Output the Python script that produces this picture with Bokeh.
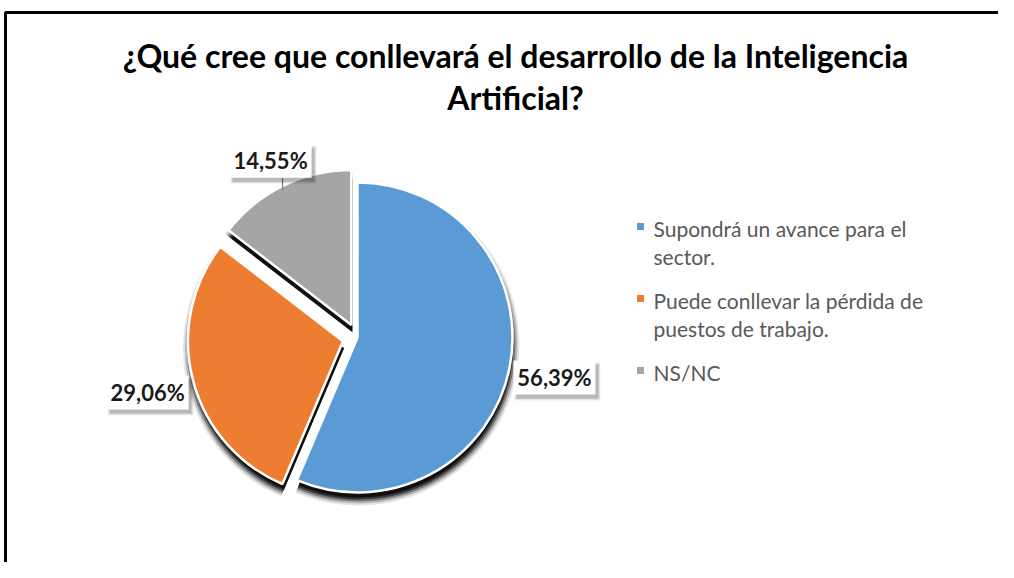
import numpy as np
import textwrap
from bokeh.plotting import figure
from bokeh.models import Range1d, ColumnDataSource
from bokeh.core.properties import value
from bokeh.embed import file_html
from bokeh.resources import INLINE

# ---------------- data ----------------
categories = ["Supondrá un avance para el sector.",
              "Puede conllevar la pérdida de puestos de trabajo.",
              "NS/NC"]
percentages = [56.39, 29.06, 14.55]
pct_labels = ["56,39%", "29,06%", "14,55%"]
colors = ["#5B9BD5", "#ED7D31", "#A5A5A5"]
title_lines = ["¿Qué cree que conllevará el desarrollo de la Inteligencia",
               "Artificial?"]

# ---------------- layout helpers (screen pixels -> data) ----------------
W, H = 998, 562
def px(x):
    return x
def py(y):
    return H - y

p = figure(width=W, height=H, x_range=Range1d(0, W), y_range=Range1d(0, H),
           output_backend="svg", toolbar_location=None, tools="",
           x_axis_location=None, y_axis_location=None, min_border=0)
p.grid.visible = False
p.outline_line_color = None
p.background_fill_color = "white"
p.border_fill_color = "white"

FONT = "Lato"

# frame border (top + left of the chart area)
p.line(x=[px(5), px(5), W], y=[0, py(12), py(12)], line_color="black", line_width=3)

# ---------------- pie geometry ----------------
cx, cy, R = px(357), py(337), 155
explode = np.array([0.0, 15.0, 14.0])
frac = np.array(percentages) / 100.0
cum = np.concatenate([[0.0], np.cumsum(frac)])
start = np.pi / 2 - cum[:-1] * 2 * np.pi
end = np.pi / 2 - cum[1:] * 2 * np.pi
mid = (start + end) / 2
sx = cx + explode * np.cos(mid)
sy = cy + explode * np.sin(mid)

# soft drop shadow (down, blurred)
for k, a in [(6, 0.10), (4, 0.20), (2, 0.35), (0, 0.55), (-2, 0.70)]:
    p.wedge(x=sx + 1, y=sy - 7, radius=R + k, start_angle=start, end_angle=end,
            direction="clock", fill_color="black", fill_alpha=a, line_color=None)

src = ColumnDataSource(dict(x=sx, y=sy, start=start, end=end, color=colors, cat=categories))
p.wedge(x="x", y="y", radius=R, start_angle="start", end_angle="end", direction="clock",
        fill_color="color", line_color="white", line_width=2.5, source=src)

# ---------------- data labels ----------------
ldist = np.array([201.0, 202.0, 183.0])
lx = sx + ldist * np.cos(mid)
ly = sy + ldist * np.sin(mid)
bw, bh = 82, 34

# leader line for the small slice
p.segment(x0=[lx[2] + 12], y0=[ly[2] - bh / 2], x1=[lx[2] + 12], y1=[ly[2] - bh / 2 - 12],
          line_color="#7F7F7F", line_width=1.2)

for k, a in [(4, 0.06), (2, 0.10), (0, 0.14)]:
    p.rect(x=lx + 3, y=ly - 4, width=bw + k, height=bh + k, fill_color="black",
           fill_alpha=a, line_color=None)
p.rect(x=lx, y=ly, width=bw, height=bh, fill_color="white", line_color=None)
p.text(x=lx, y=ly, text=pct_labels, text_font=value(FONT), text_font_style="bold",
       text_font_size="22px", text_color="#1A1A1A", text_align="center",
       text_baseline="middle")

# ---------------- legend ----------------
leg_x = px(640)
leg_text_x = px(653)
line_h = 28
gap = 16
ys_sq, lines_x, lines_y, lines_t = [], [], [], []
yy = 228
for cat in categories:
    wrapped = textwrap.wrap(cat, 29)
    ys_sq.append(py(yy - 2))
    for j, t in enumerate(wrapped):
        lines_x.append(leg_text_x)
        lines_y.append(py(yy + j * line_h))
        lines_t.append(t)
    yy += len(wrapped) * line_h + gap

p.rect(x=[leg_x] * len(categories), y=ys_sq, width=7, height=7,
       fill_color=colors, line_color=None)
p.text(x=lines_x, y=lines_y, text=lines_t, text_font=value(FONT),
       text_font_size="21px", text_color="#595959", text_align="left",
       text_baseline="middle")

# ---------------- title ----------------
p.text(x=[px(515)] * 2, y=[py(55), py(97)], text=title_lines, text_font=value(FONT),
       text_font_style="bold", text_font_size="32px", text_color="black",
       text_align="center", text_baseline="middle")

open("out.html", "w").write(file_html(p, INLINE))
